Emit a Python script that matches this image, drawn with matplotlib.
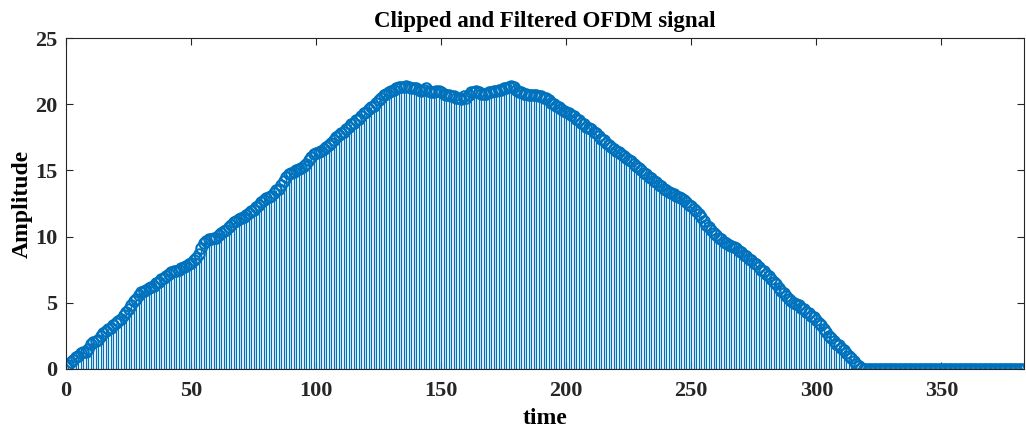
import numpy as np
import matplotlib
matplotlib.use("Agg")
import matplotlib.pyplot as plt

# ---------------------------------------------------------------------------
# Data: clipped and filtered OFDM signal (amplitude per sample)
# ---------------------------------------------------------------------------
amplitude = [
    0.2, 0.3, 0.5, 0.7, 0.9, 1.0, 1.2, 1.3, 1.3, 1.5,
    1.9, 2.0, 2.1, 2.2, 2.5, 2.7, 2.9, 3.0, 3.1, 3.3,
    3.5, 3.6, 3.8, 4.1, 4.3, 4.5, 4.8, 5.1, 5.3, 5.6,
    5.8, 5.9, 6.0, 6.1, 6.2, 6.3, 6.5, 6.6, 6.8, 6.9,
    7.0, 7.2, 7.3, 7.4, 7.4, 7.5, 7.6, 7.7, 7.8, 7.9,
    8.0, 8.2, 8.4, 8.7, 9.1, 9.5, 9.7, 9.8, 9.8, 9.9,
    9.9, 10.1, 10.3, 10.4, 10.5, 10.7, 10.9, 11.1, 11.2, 11.3,
    11.4, 11.5, 11.6, 11.8, 11.9, 12.0, 12.2, 12.4, 12.6, 12.8,
    12.9, 13.0, 13.1, 13.3, 13.5, 13.6, 13.9, 14.2, 14.5, 14.7,
    14.8, 14.9, 15.0, 15.1, 15.2, 15.3, 15.5, 15.8, 16.0, 16.2,
    16.3, 16.4, 16.5, 16.6, 16.8, 16.9, 17.1, 17.3, 17.5, 17.7,
    17.8, 17.9, 18.1, 18.3, 18.5, 18.6, 18.8, 18.9, 19.1, 19.3,
    19.4, 19.6, 19.8, 19.9, 20.1, 20.3, 20.5, 20.7, 20.8, 20.9,
    21.0, 21.1, 21.2, 21.3, 21.3, 21.3, 21.4, 21.3, 21.2, 21.2,
    21.2, 21.1, 21.0, 21.1, 21.2, 21.0, 20.9, 20.9, 21.0, 21.0,
    20.9, 20.8, 20.7, 20.7, 20.6, 20.6, 20.5, 20.5, 20.4, 20.6,
    20.5, 20.7, 20.9, 20.9, 21.0, 20.9, 20.8, 20.8, 20.8, 20.9,
    20.9, 21.0, 21.0, 21.1, 21.1, 21.2, 21.2, 21.3, 21.4, 21.3,
    21.1, 20.9, 20.9, 20.8, 20.8, 20.7, 20.7, 20.7, 20.7, 20.6,
    20.6, 20.5, 20.5, 20.3, 20.1, 20.0, 19.9, 19.8, 19.6, 19.5,
    19.4, 19.3, 19.2, 19.1, 18.9, 18.8, 18.6, 18.5, 18.3, 18.2,
    18.1, 17.9, 17.8, 17.6, 17.4, 17.3, 17.1, 16.9, 16.8, 16.6,
    16.5, 16.4, 16.2, 16.1, 15.9, 15.8, 15.7, 15.5, 15.3, 15.2,
    15.0, 14.8, 14.7, 14.5, 14.4, 14.2, 14.1, 13.9, 13.8, 13.6,
    13.5, 13.4, 13.3, 13.2, 13.1, 13.0, 12.9, 12.8, 12.6, 12.4,
    12.3, 12.1, 11.9, 11.7, 11.5, 11.2, 10.9, 10.7, 10.5, 10.3,
    10.1, 9.9, 9.8, 9.6, 9.5, 9.4, 9.3, 9.2, 9.1, 8.9,
    8.8, 8.6, 8.5, 8.3, 8.2, 8.0, 7.9, 7.7, 7.5, 7.4,
    7.2, 7.0, 6.8, 6.6, 6.4, 6.1, 5.9, 5.7, 5.5, 5.3,
    5.1, 5.0, 4.9, 4.8, 4.6, 4.5, 4.3, 4.2, 4.0, 3.9,
    3.7, 3.5, 3.3, 3.0, 2.8, 2.5, 2.3, 2.1, 1.9, 1.8,
    1.6, 1.4, 1.2, 1.0, 0.8, 0.6, 0.4, 0.2, 0.1,
]
# zero padding after the signal (samples 319..383)
padding = [0.0] * 65
signal = np.array(amplitude + padding)
time = np.arange(len(signal))

x_ticks = [0, 50, 100, 150, 200, 250, 300, 350]
y_ticks = [0, 5, 10, 15, 20, 25]

# ---------------------------------------------------------------------------
# Plot
# ---------------------------------------------------------------------------
plt.rcParams["font.family"] = "Liberation Serif"
plt.rcParams["font.weight"] = "bold"

fig = plt.figure(figsize=(10.26, 4.32), dpi=100)
ax = fig.add_axes([0.0643, 0.146, 0.9337, 0.766])

blue = "#0072BD"
markerline, stemlines, baseline = ax.stem(time, signal, linefmt="-", markerfmt="o", basefmt="-")
plt.setp(stemlines, color=blue, linewidth=0.9)
plt.setp(markerline, color=blue, markerfacecolor="none", markeredgecolor=blue,
         markersize=7.5, markeredgewidth=1.5)
plt.setp(baseline, color="#262626", linewidth=0.8)

ax.set_xlim(0, 383)
ax.set_ylim(0, 25)
ax.set_xticks(x_ticks)
ax.set_yticks(y_ticks)
ax.tick_params(direction="in", length=5, width=0.8, top=True, right=True,
               labelsize=16, colors="#262626")
ax.tick_params(axis="x", pad=9)
ax.tick_params(axis="y", pad=6)
for s in ax.spines.values():
    s.set_color("#262626")
    s.set_linewidth(0.8)

ax.set_title("Clipped and Filtered OFDM signal", fontsize=16.5, fontweight="bold", pad=8)
ax.set_xlabel("time", fontsize=17, fontweight="bold", labelpad=5)
ax.set_ylabel("Amplitude", fontsize=17, fontweight="bold", labelpad=2)

fig.savefig("out.png", dpi=100)
plt.close(fig)
